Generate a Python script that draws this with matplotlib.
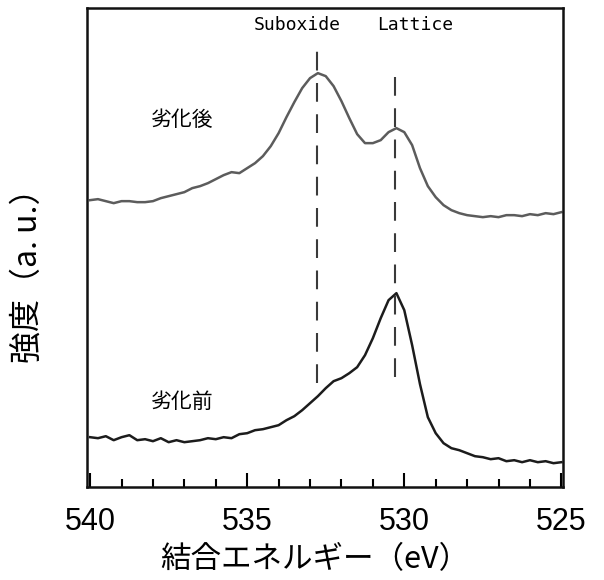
import matplotlib
matplotlib.use('Agg')
import matplotlib.pyplot as plt
from matplotlib.ticker import MultipleLocator


# binding energy grid (eV), 0.25 eV steps, high -> low
energy = [
    540.00, 539.75, 539.50, 539.25, 539.00, 538.75, 538.50, 538.25, 538.00, 537.75,
    537.50, 537.25, 537.00, 536.75, 536.50, 536.25, 536.00, 535.75, 535.50, 535.25,
    535.00, 534.75, 534.50, 534.25, 534.00, 533.75, 533.50, 533.25, 533.00, 532.75,
    532.50, 532.25, 532.00, 531.75, 531.50, 531.25, 531.00, 530.75, 530.50, 530.25,
    530.00, 529.75, 529.50, 529.25, 529.00, 528.75, 528.50, 528.25, 528.00, 527.75,
    527.50, 527.25, 527.00, 526.75, 526.50, 526.25, 526.00, 525.75, 525.50, 525.25,
    525.00,
]

# after degradation (劣化後), arbitrary units
after = [
    287, 288, 286, 284, 286, 286, 285, 285, 286, 289,
    291, 293, 295, 299, 301, 304, 308, 312, 315, 314,
    319, 324, 331, 341, 354, 370, 385, 399, 409, 414,
    411, 401, 386, 369, 353, 344, 344, 347, 355, 359,
    355, 342, 319, 301, 290, 282, 277, 274, 272, 271,
    270, 271, 270, 272, 272, 271, 273, 272, 274, 273,
    275,
]

# before degradation (劣化前), arbitrary units
before = [
    50, 49, 51, 47, 50, 52, 47, 48, 46, 49,
    45, 47, 45, 46, 47, 49, 48, 50, 49, 53,
    54, 57, 58, 60, 62, 67, 71, 77, 84, 91,
    99, 106, 109, 114, 120, 132, 149, 169, 187, 194,
    177, 142, 103, 70, 54, 44, 39, 37, 34, 31,
    30, 28, 29, 26, 27, 25, 27, 25, 26, 24,
    25,
]

# reference peak positions (eV) and the span of their dashed markers
peak_names = ['Suboxide', 'Lattice']
peak_energy = [532.77, 530.29]
peak_top = [437, 412]
peak_bottom = [104, 110]

cjk = ['Noto Sans CJK JP', 'DejaVu Sans']
narrow = ['Liberation Sans Narrow', 'Liberation Sans', 'DejaVu Sans']

fig = plt.figure(figsize=(6.04, 5.80), dpi=100)
ax = fig.add_axes([0.144, 0.160, 0.788, 0.826])

ax.plot(energy, after, color='#5c5c5c', lw=1.8)
ax.plot(energy, before, color='#1c1c1c', lw=1.8)

for e, top, bot in zip(peak_energy, peak_top, peak_bottom):
    ax.plot([e, e], [bot, top], color='#3a3a3a', lw=1.5,
            dashes=(9, 6))

ax.text(533.41, 462, peak_names[0], ha='center', va='center',
        family='DejaVu Sans Mono', fontsize=13)
ax.text(529.65, 462, peak_names[1], ha='center', va='center',
        family='DejaVu Sans Mono', fontsize=13)

ax.text(537.05, 367, '劣化後', ha='center', va='center', family=cjk, fontsize=15)
ax.text(537.07, 85, '劣化前', ha='center', va='center', family=cjk, fontsize=15)

ax.set_xlim(540.1, 524.95)
ax.set_ylim(0, 479)

ax.xaxis.set_major_locator(MultipleLocator(5))
ax.xaxis.set_minor_locator(MultipleLocator(1))
ax.tick_params(axis='x', which='major', direction='in', length=10, width=1.5,
               pad=14, labelsize=22)
ax.tick_params(axis='x', which='minor', direction='in', length=6, width=1.5)
ax.set_yticks([])
for lab in ax.get_xticklabels():
    lab.set_family(narrow)

for sp in ax.spines.values():
    sp.set_linewidth(1.8)
    sp.set_color('#111111')

fig.text(0.521, 0.036, '結合エネルギー（eV）', ha='center', va='center',
         family=cjk, fontsize=22)
fig.text(0.045, 0.538, '強度（a. u.）', ha='center', va='center',
         rotation=90, family=cjk, fontsize=23)

fig.savefig('out.png', dpi=100)
